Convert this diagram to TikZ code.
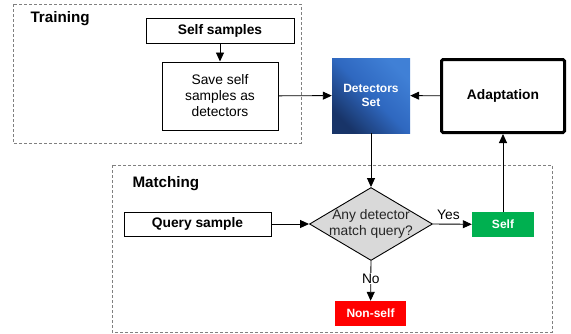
\documentclass[tikz,border=0pt]{standalone}
\usepackage{fontspec}
\setmainfont{Liberation Sans}
\usetikzlibrary{shapes.geometric,arrows.meta}
\definecolor{selfgreen}{RGB}{0,176,80}
\definecolor{nsred}{RGB}{255,0,0}
\definecolor{dgray}{RGB}{217,217,217}
\definecolor{blueL}{RGB}{64,128,214}
\definecolor{blueM}{RGB}{47,104,192}
\definecolor{blueD}{RGB}{24,52,104}
\begin{document}
\begin{tikzpicture}[x=1pt,y=-1pt,
  box/.style={draw=black, line width=1pt, inner sep=0pt, align=center},
  conn/.style={line width=0.9pt, -{Triangle[length=9pt,width=8pt]}},
  region/.style={draw=gray, dash pattern=on 3pt off 2pt, line width=0.8pt},
  mainfont/.style={font=\fontsize{13.8}{16}\selectfont},
  boldfont/.style={font=\fontsize{13.8}{16}\selectfont\bfseries},
  smallbold/.style={font=\fontsize{12}{14}\selectfont\bfseries},
  titlefont/.style={font=\fontsize{15.2}{17}\selectfont\bfseries},
  colbox/.style={inner sep=0pt, smallbold, text=white, align=center}]
\useasboundingbox (0,0) rectangle (571,333);
% regions
\draw[region] (13,4) rectangle (301,143);
\draw[region] (112,165) rectangle (552,332);
\node[titlefont, anchor=west] (ttrain) at (27,19) {Training};
\node[titlefont, anchor=west] (tmatch) at (129,184) {Matching};
% training
\node[box, boldfont, minimum width=148pt, minimum height=25pt] (ss) at (220,30.5) {Self samples};
\node[box, mainfont, minimum width=116pt, minimum height=68pt] (save) at (220,96) {Save self\\samples as\\detectors};
% detectors set
\node[colbox, minimum width=78pt, minimum height=75pt, shade,
  top color=blueL, bottom color=blueD, middle color=blueM, shading angle=-45] (det) at (371,95.5) {Detectors\\Set};
\node[box, boldfont, line width=3pt, rounded corners=1.5pt, minimum width=123pt, minimum height=73pt] (adapt) at (503,96) {Adaptation};
% matching
\node[box, boldfont, minimum width=147pt, minimum height=24pt] (query) at (197.5,224) {Query sample};
\node[diamond, draw=black, line width=0.9pt, fill=dgray, minimum width=123pt, minimum height=73pt, inner sep=0pt] (dia) at (371,224) {};
\node[mainfont, align=center, text=black!85] (diatext) at (371,224) {Any detector\\match query?};
\node[colbox, fill=selfgreen, minimum width=62pt, minimum height=25pt] (self) at (503,224.5) {Self};
\node[colbox, fill=nsred, minimum width=71pt, minimum height=25pt] (nonself) at (370.5,313.5) {Non-self};
% connectors
\draw[conn] (ss) -- (save);
\draw[conn] (save) -- (det);
\draw[conn] (adapt) -- (det);
\draw[conn] (det) -- (dia.north);
\draw[conn] (query) -- (dia.west);
\draw[conn] (dia.east) -- node[mainfont, above=1pt, pos=0.4] (yes) {Yes} (self);
\draw[conn] (self) -- (adapt);
\draw[conn] (dia.south) -- node[mainfont, fill=white, inner sep=1pt, pos=0.44] (no) {No} (nonself);
\end{tikzpicture}
\end{document}
